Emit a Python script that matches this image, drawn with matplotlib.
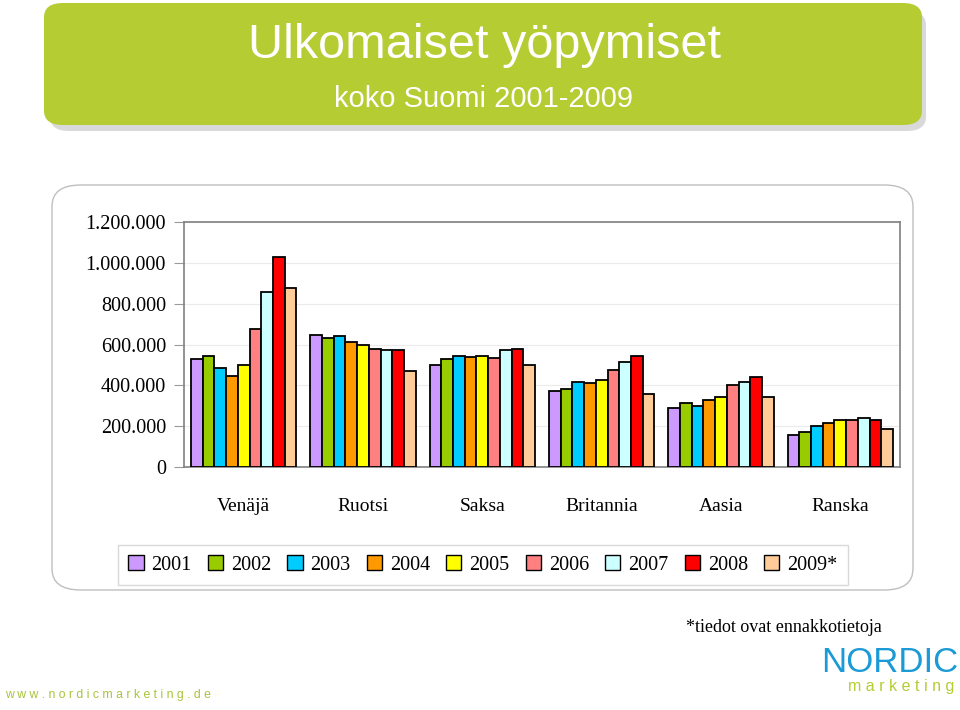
import matplotlib.pyplot as plt
import numpy as np
from matplotlib.patches import FancyBboxPatch
from matplotlib.ticker import FuncFormatter

# Data (overnight stays, foreign visitors)
categories = ['Venäjä', 'Ruotsi', 'Saksa', 'Britannia', 'Aasia', 'Ranska']
years = ['2001', '2002', '2003', '2004', '2005', '2006', '2007', '2008', '2009*']
colors = ['#CC99FF', '#99CC00', '#00CCFF', '#FF9900', '#FFFF00',
          '#FF8080', '#CCFFFF', '#FF0000', '#FFCC99']

venaja = [529000, 544000, 485000, 446000, 500000, 676000, 858000, 1029000, 877000]
ruotsi = [647000, 632000, 642000, 613000, 598000, 578000, 573000, 573000, 470000]
saksa = [500000, 529000, 544000, 540000, 544000, 534000, 573000, 578000, 500000]
britannia = [373000, 382000, 417000, 412000, 426000, 475000, 515000, 544000, 358000]
aasia = [289000, 314000, 299000, 328000, 343000, 402000, 417000, 441000, 343000]
ranska = [157000, 172000, 201000, 216000, 230000, 230000, 240000, 230000, 186000]

values = np.array([venaja, ruotsi, saksa, britannia, aasia, ranska])

fig = plt.figure(figsize=(9.6, 7.1), dpi=100)
fig.patch.set_facecolor('white')

# title banner with shadow
shadow = FancyBboxPatch((50 / 960, 1 - 131 / 710), 876 / 960, 120 / 710,
                        boxstyle='round,pad=0,rounding_size=0.02',
                        transform=fig.transFigure, facecolor='#D9D9D9',
                        edgecolor='none', zorder=0)
banner = FancyBboxPatch((44 / 960, 1 - 125 / 710), 878 / 960, 122 / 710,
                        boxstyle='round,pad=0,rounding_size=0.02',
                        transform=fig.transFigure, facecolor='#B5CC32',
                        edgecolor='none', zorder=0)
frame = FancyBboxPatch((52 / 960, 1 - 590 / 710), 861 / 960, 405 / 710,
                       boxstyle='round,pad=0,rounding_size=0.03',
                       transform=fig.transFigure, facecolor='white',
                       edgecolor='#BFBFBF', linewidth=1.0, zorder=0)
fig.patches.extend([shadow, banner, frame])

fig.text(484 / 960, 1 - 45 / 710, 'Ulkomaiset yöpymiset', color='white',
         fontsize=35, family='Liberation Sans', ha='center', va='center')
fig.text(484 / 960, 1 - 99 / 710, 'koko Suomi 2001-2009', color='white',
         fontsize=21, family='Liberation Sans', ha='center', va='center')

ax = fig.add_axes([184 / 960, 1 - 467 / 710, 716 / 960, 245 / 710])
ax.set_zorder(2)
ax.set_facecolor('none')

x = np.arange(len(categories))
width = 0.098
for i, (yr, col) in enumerate(zip(years, colors)):
    offs = (i - 4) * width
    ax.bar(x + offs, values[:, i], width=width, color=col, edgecolor='black',
           linewidth=1.3, label=yr, zorder=3)

ax.set_xlim(-0.5, len(categories) - 0.5)
ax.set_ylim(0, 1200000)
ax.set_yticks(np.arange(0, 1200001, 200000))
ax.yaxis.set_major_formatter(FuncFormatter(lambda v, p: f'{int(v):,}'.replace(',', '.')))
ax.yaxis.grid(True, color='#EBEBEB', linewidth=0.8, zorder=0)
ax.set_xticks(x)
ax.set_xticklabels(categories)
ax.tick_params(axis='x', length=0, pad=22, labelsize=14)
ax.tick_params(axis='y', length=7, color='#999999', labelsize=14.5, pad=6)
for lab in ax.get_xticklabels() + ax.get_yticklabels():
    lab.set_family('Liberation Serif')
for s in ax.spines.values():
    s.set_color('#808080')
    s.set_linewidth(1.2)

leg = fig.legend(loc='center', bbox_to_anchor=(483 / 960, 1 - 565 / 710), ncol=9,
                 frameon=True, fancybox=False, edgecolor='#D0D0D0',
                 prop={'family': 'Liberation Serif', 'size': 14.5},
                 handlelength=0.75, handleheight=0.75, handletextpad=0.4,
                 columnspacing=0.8, borderpad=0.5)
leg.set_zorder(3)
for h in leg.legend_handles:
    h.set_linewidth(1.0)

fig.text(882 / 960, 1 - 628 / 710, '*tiedot ovat ennakkotietoja', ha='right', va='center',
         fontsize=13, family='Liberation Serif')
fig.text(958 / 960, 1 - 663 / 710, 'NORDIC', ha='right', va='center', color='#1B9AD6',
         fontsize=25, family='Liberation Sans')
fig.text(954 / 960, 1 - 687 / 710, 'm a r k e t i n g', ha='right', va='center',
         color='#B5CC32', fontsize=11.5, family='Liberation Sans')
fig.text(5 / 960, 1 - 695 / 710, 'w w w . n o r d i c m a r k e t i n g . d e', ha='left',
         va='center', color='#A8C43A', fontsize=8.8, family='Liberation Sans')

fig.savefig('out.png', dpi=100, facecolor='white')
